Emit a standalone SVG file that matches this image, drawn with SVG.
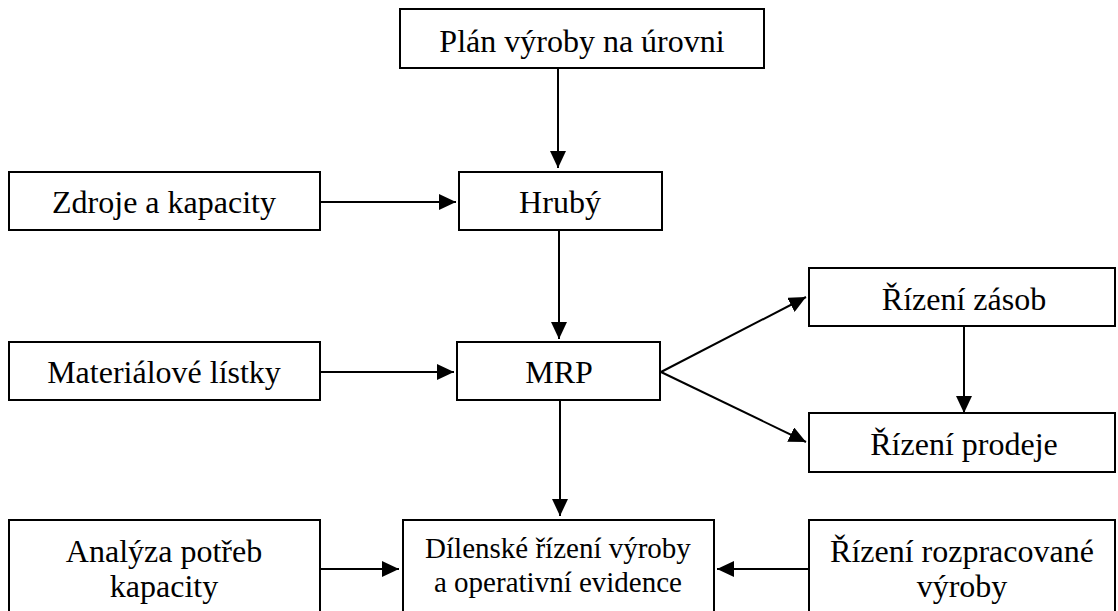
<svg xmlns="http://www.w3.org/2000/svg" width="1118" height="611" viewBox="0 0 1118 611">
<defs>
<marker id="ah" markerUnits="userSpaceOnUse" markerWidth="18" markerHeight="16" refX="17" refY="8" orient="auto">
<path d="M0,0 L17,8 L0,16 z" fill="#000"/>
</marker>
</defs>
<rect width="1118" height="611" fill="#fff"/>
<g id="connectors" stroke="#000" stroke-width="2" fill="none" marker-end="url(#ah)">
<line x1="558" y1="68" x2="558" y2="168"/>
<line x1="320" y1="202" x2="456" y2="202"/>
<line x1="559" y1="230" x2="559" y2="339"/>
<line x1="320" y1="372" x2="454" y2="372"/>
<line x1="661" y1="372" x2="806" y2="297"/>
<line x1="661" y1="372" x2="806" y2="442"/>
<line x1="964" y1="326" x2="964" y2="413"/>
<line x1="560" y1="400" x2="560" y2="516"/>
<line x1="320" y1="569" x2="399" y2="569"/>
<line x1="809" y1="569" x2="717" y2="569"/>
</g>
<g id="plan">
<rect fill="#fff" stroke="#000" stroke-width="2" x="400" y="9" width="364" height="59"/>
<text font-family="Liberation Serif" font-size="32" text-anchor="middle" x="582" y="52">Plán výroby na úrovni</text>
</g>
<g id="zdroje">
<rect fill="#fff" stroke="#000" stroke-width="2" x="9" y="172" width="311" height="58"/>
<text font-family="Liberation Serif" font-size="32" text-anchor="middle" x="164" y="213">Zdroje a kapacity</text>
</g>
<g id="hruby">
<rect fill="#fff" stroke="#000" stroke-width="2" x="459" y="172" width="203" height="58"/>
<text font-family="Liberation Serif" font-size="32" text-anchor="middle" x="560" y="213">Hrubý</text>
</g>
<g id="material">
<rect fill="#fff" stroke="#000" stroke-width="2" x="9" y="342" width="311" height="58"/>
<text font-family="Liberation Serif" font-size="32" text-anchor="middle" x="164" y="383">Materiálové lístky</text>
</g>
<g id="mrp">
<rect fill="#fff" stroke="#000" stroke-width="2" x="457" y="342" width="203" height="58"/>
<text font-family="Liberation Serif" font-size="32" text-anchor="middle" x="559" y="383">MRP</text>
</g>
<g id="zasoby">
<rect fill="#fff" stroke="#000" stroke-width="2" x="809" y="268" width="306" height="58"/>
<text font-family="Liberation Serif" font-size="32" text-anchor="middle" x="964" y="310">Řízení zásob</text>
</g>
<g id="prodej">
<rect fill="#fff" stroke="#000" stroke-width="2" x="809" y="413" width="306" height="59"/>
<text font-family="Liberation Serif" font-size="32" text-anchor="middle" x="964" y="455">Řízení prodeje</text>
</g>
<g id="analyza">
<rect fill="#fff" stroke="#000" stroke-width="2" x="9" y="520" width="311" height="100"/>
<text font-family="Liberation Serif" font-size="32" text-anchor="middle" x="164" y="562">Analýza potřeb</text>
<text font-family="Liberation Serif" font-size="32" text-anchor="middle" x="164" y="597">kapacity</text>
</g>
<g id="dilenske">
<rect fill="#fff" stroke="#000" stroke-width="2" x="403" y="520" width="311" height="100"/>
<text font-family="Liberation Serif" font-size="29" text-anchor="middle" x="558" y="558">Dílenské řízení výroby</text>
<text font-family="Liberation Serif" font-size="29" text-anchor="middle" x="558" y="592">a operativní evidence</text>
</g>
<g id="rozpracovane">
<rect fill="#fff" stroke="#000" stroke-width="2" x="809" y="520" width="306" height="100"/>
<text font-family="Liberation Serif" font-size="32" text-anchor="middle" x="962" y="562">Řízení rozpracované</text>
<text font-family="Liberation Serif" font-size="32" text-anchor="middle" x="962" y="597">výroby</text>
</g>
</svg>
